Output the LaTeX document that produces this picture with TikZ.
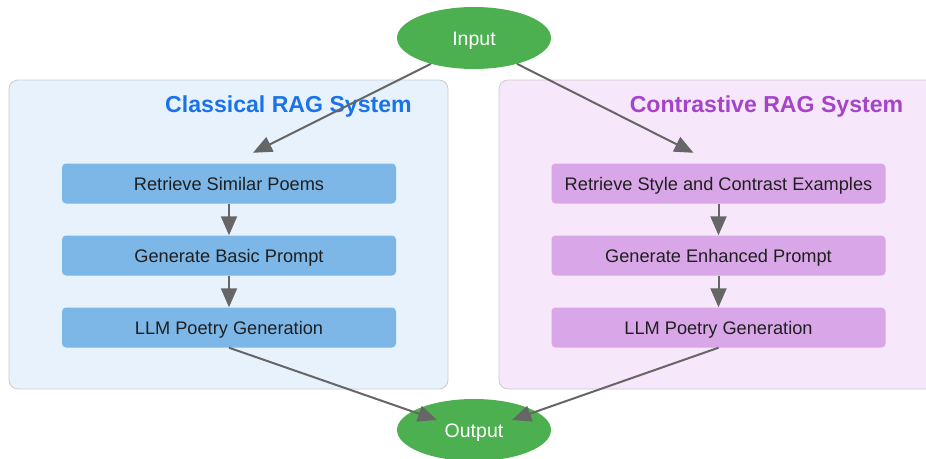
\documentclass[tikz,border=0pt]{standalone}
\usepackage{fontspec}
\setmainfont{Liberation Sans}
\usetikzlibrary{arrows.meta,shapes.geometric}
\definecolor{termgreen}{HTML}{4CAF50}
\definecolor{clblue}{HTML}{E8F2FC}
\definecolor{clpurple}{HTML}{F7E7FA}
\definecolor{clborder}{HTML}{CCCCCC}
\definecolor{boxblue}{HTML}{7CB7E8}
\definecolor{boxpurple}{HTML}{D9A7E8}
\definecolor{titleblue}{HTML}{1A73E8}
\definecolor{titlepurple}{HTML}{A543C9}
\definecolor{edgegray}{HTML}{666666}
\tikzset{
  terminal/.style={ellipse, fill=termgreen, draw=none, minimum width=154pt, minimum height=62pt,
    text=white, font=\fontsize{19.5}{22}\selectfont, inner sep=0pt,
    text height=14pt, text depth=0pt},
  cluster/.style={rectangle, rounded corners=9pt, draw=clborder, line width=0.8pt},
  stepbox/.style={rectangle, rounded corners=4pt, minimum width=334pt, minimum height=40pt,
    inner sep=0pt, text=black!88, font=\fontsize{18.2}{20}\selectfont,
    text height=13pt, text depth=0pt},
  cltitle/.style={font=\bfseries\fontsize{23.1}{26}\selectfont, inner sep=0pt,
    text height=16.5pt, text depth=0pt},
  arr/.style={draw=edgegray, line width=2pt, -{Triangle[length=19pt,width=16pt]}, fill=edgegray}
}
\begin{document}
\begin{tikzpicture}[x=1pt,y=-1pt]
\useasboundingbox (0,0) rectangle (926,458);

% system clusters
\node (cl) [cluster, fill=clblue, minimum width=439pt, minimum height=309pt] at (228.5,234.5) {};
\node (cr) [cluster, fill=clpurple, minimum width=439pt, minimum height=309pt] at (718.5,234.5) {};
\node (tl) [cltitle, text=titleblue] at (288.5,104) {Classical RAG System};
\node (tr) [cltitle, text=titlepurple] at (766.5,104) {Contrastive RAG System};

% terminals
\node (in) [terminal] at (474,38) {Input};
\node (out) [terminal] at (474,430) {Output};

% classical pipeline
\node (l1) [stepbox, fill=boxblue] at (229,183.5) {Retrieve Similar Poems};
\node (l2) [stepbox, fill=boxblue] at (229,255.5) {Generate Basic Prompt};
\node (l3) [stepbox, fill=boxblue] at (229,327.5) {LLM Poetry Generation};

% contrastive pipeline
\node (r1) [stepbox, fill=boxpurple] at (718.5,183.5) {Retrieve Style and Contrast Examples};
\node (r2) [stepbox, fill=boxpurple] at (718.5,255.5) {Generate Enhanced Prompt};
\node (r3) [stepbox, fill=boxpurple] at (718.5,327.5) {LLM Poetry Generation};

% connectors
\draw[arr] (in.211) -- ([shift={(24,-10.5)}]l1.north);
\draw[arr] (in.329) -- ([shift={(-25,-10.5)}]r1.north);
\draw[arr] (l1) -- (l2);
\draw[arr] (l2) -- (l3);
\draw[arr] (r1) -- (r2);
\draw[arr] (r2) -- (r3);
\draw[arr] (l3.south) -- ([shift={(-37,-10)}]out.center);
\draw[arr] (r3.south) -- ([shift={(38,-10)}]out.center);
\end{tikzpicture}
\end{document}
